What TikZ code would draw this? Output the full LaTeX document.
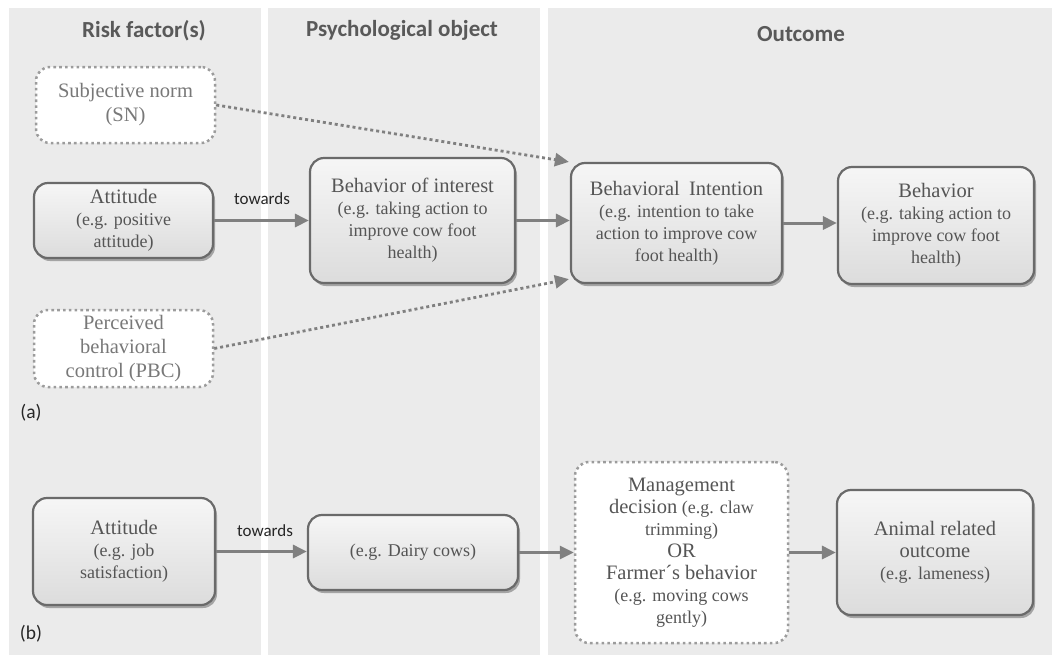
\documentclass[tikz,border=0pt]{standalone}
\usepackage{fontspec}
\setmainfont{Liberation Serif}
\newfontfamily\calib{Carlito}
\usetikzlibrary{arrows.meta,shadows,calc}
\definecolor{panel}{HTML}{EBEBEB}
\definecolor{txt}{HTML}{555555}
\definecolor{ltxt}{HTML}{787878}
\definecolor{arr}{HTML}{808080}
\definecolor{bord}{HTML}{6A6A6A}
\definecolor{dotc}{HTML}{9C9C9C}
\definecolor{hdr}{HTML}{595959}
\definecolor{boxtop}{HTML}{F6F6F6}
\definecolor{boxbot}{HTML}{DCDCDC}
\newcommand\tfnt{\fontsize{20.5}{24}\selectfont}
\newcommand\subfnt{\fontsize{18}{22}\selectfont}
\tikzset{
  solidbox/.style={rectangle, rounded corners=14pt, draw=bord, line width=2.2pt,
    top color=boxtop, bottom color=boxbot,
    drop shadow={shadow xshift=2pt, shadow yshift=-3pt, opacity=0.3, fill=black},
    align=center, text=txt, inner sep=3pt, font=\subfnt},
  dotbox/.style={rectangle, rounded corners=14pt, draw=dotc, line width=2.5pt,
    dash pattern=on 2.6pt off 3.2pt, fill=white, align=center, text=ltxt,
    inner sep=3pt, font=\tfnt},
  conn/.style={draw=arr, line width=3pt, -{Triangle[length=14pt,width=13pt]}},
  dotconn/.style={draw=arr, line width=2.8pt, dash pattern=on 3pt off 3pt,
    -{Triangle[length=14pt,width=13pt]}},
  header/.style={font=\calib\bfseries\fontsize{23}{26}\selectfont, text=hdr},
  lbl/.style={font=\calib\fontsize{17}{20}\selectfont, text=black!85},
  plbl/.style={font=\calib\fontsize{19.5}{22}\selectfont, text=black!85},
  panelbg/.style={fill=panel, draw=none}
}
\begin{document}
\begin{tikzpicture}[x=1pt,y=-1pt]
\useasboundingbox (0,0) rectangle (1054,657);
\fill[white] (0,0) rectangle (1054,657);
% panels
\fill[panelbg] (9,8) rectangle (261,655);
\fill[panelbg] (268,8) rectangle (540,655);
\fill[panelbg] (548,8) rectangle (1052,655);
% headers
\node[header] (h1) at (144,31) {Risk factor(s)};
\node[header] (h2) at (402,30) {Psychological object};
\node[header] (h3) at (801,34) {Outcome};
% part (a)
\node[dotbox, minimum width=179pt, minimum height=76pt] (sn) at (125.5,105)
  {Subjective norm\\(SN)};
\node[solidbox, minimum width=179pt, minimum height=75pt] (atta) at (123.5,220.5)
  {{\tfnt Attitude}\\(e.g. positive\\attitude)};
\node[dotbox, minimum width=179pt, minimum height=77pt] (pbc) at (123.5,348.5)
  {Perceived\\behavioral\\control (PBC)};
\node[solidbox, minimum width=205pt, minimum height=125pt] (boi) at (412.5,220.5)
  {{\tfnt Behavior of interest}\\(e.g. taking action to\\improve cow foot\\health)};
\node[solidbox, minimum width=211pt, minimum height=120pt] (bi) at (676.5,223)
  {{\tfnt Behavioral\hspace{0.45em}Intention}\\(e.g. intention to take\\action to improve cow\\foot health)};
\node[solidbox, minimum width=196pt, minimum height=117pt] (beh) at (936,225.5)
  {{\tfnt Behavior}\\(e.g. taking action to\\improve cow foot\\health)};
\node[lbl] (twa) at (262,199) {towards};
\node[plbl] (la) at (31,413) {(a)};
\draw[conn] (atta.east) -- (boi.west);
\draw[conn] (boi.east) -- (boi.east -| bi.west);
\draw[conn] (bi.east) -- (bi.east -| beh.west);
\draw[dotconn] (sn.east) -- ([xshift=-1pt]bi.north west);
\draw[dotconn] (pbc.east) -- ([xshift=-1pt,yshift=5pt]bi.south west);
% part (b)
\node[solidbox, minimum width=182pt, minimum height=107pt] (attb) at (124,551.5)
  {{\tfnt Attitude}\\(e.g. job\\satisfaction)};
\node[solidbox, minimum width=210pt, minimum height=75pt] (dairy) at (413,552.5)
  {(e.g. Dairy cows)};
\node[dotbox, minimum width=213pt, minimum height=181pt, text=txt, font=\subfnt] (mgmt) at (681.5,552.5)
  {{\tfnt Management}\\{\tfnt decision} (e.g. claw\\trimming)\\{\tfnt OR}\\{\tfnt Farmer´s behavior}\\(e.g. moving cows\\gently)};
\node[solidbox, minimum width=196pt, minimum height=125pt] (animal) at (935,552.5)
  {{\tfnt Animal related}\\{\tfnt outcome}\\(e.g. lameness)};
\node[lbl] (twb) at (265,531) {towards};
\node[plbl] (lb) at (31,634) {(b)};
\draw[conn] (attb.east) -- (attb.east -| dairy.west);
\draw[conn] (dairy.east) -- (mgmt.west);
\draw[conn] (mgmt.east) -- (animal.west);
\end{tikzpicture}
\end{document}
